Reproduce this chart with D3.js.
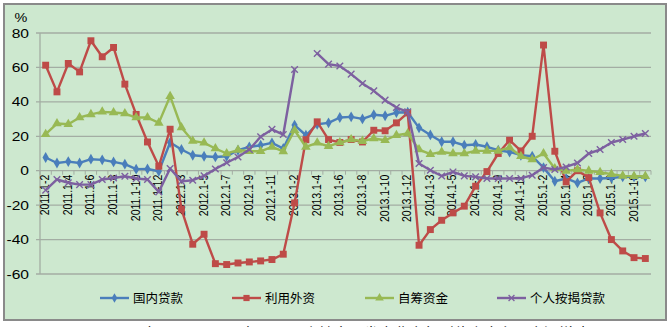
<!DOCTYPE html>
<html>
<head>
<meta charset="utf-8">
<script src="https://cdn.jsdelivr.net/npm/d3@7"></script>
<style>
  html, body { margin: 0; padding: 0; background: #ffffff; }
  svg { display: block; font-family: "Liberation Sans", Arial, sans-serif; }
</style>
</head>
<body>
<svg id="chart" width="671" height="327"></svg>
<script>
// Monthly cumulative periods (Jan–Feb combined), 2011 to 2015
const categories = [
  "2011.1-2","2011.1-3","2011.1-4","2011.1-5","2011.1-6","2011.1-7","2011.1-8","2011.1-9","2011.1-10","2011.1-11","2011.1-12",
  "2012.1-2","2012.1-3","2012.1-4","2012.1-5","2012.1-6","2012.1-7","2012.1-8","2012.1-9","2012.1-10","2012.1-11","2012.1-12",
  "2013.1-2","2013.1-3","2013.1-4","2013.1-5","2013.1-6","2013.1-7","2013.1-8","2013.1-9","2013.1-10","2013.1-11","2013.1-12",
  "2014.1-2","2014.1-3","2014.1-4","2014.1-5","2014.1-6","2014.1-7","2014.1-8","2014.1-9","2014.1-10","2014.1-11","2014.1-12",
  "2015.1-2","2015.1-3","2015.1-4","2015.1-5","2015.1-6","2015.1-7","2015.1-8","2015.1-9","2015.1-10","2015.1-11"
];

// Year-on-year growth, %
const domesticLoans = [
  7.7, 4.5, 5.3, 4.5, 6.7, 6.3, 5.1, 3.8, 0.9, 1.0, -0.3,
  16.4, 12.3, 9.0, 8.4, 8.0, 8.4, 11.9, 13.8, 14.8, 16.2, 12.9,
  26.5, 20.6, 27.0, 27.8, 30.9, 31.3, 30.1, 32.5, 31.9, 33.8, 34.0,
  24.9, 20.8, 16.8, 16.8, 14.8, 15.2, 13.9, 11.9, 10.9, 9.0, 8.4,
  1.8, -6.1, -4.5, -7.1, -4.5, -4.5, -4.2, -3.6, -3.6, -3.6
];
const foreignCapital = [
  61.3, 45.8, 62.3, 57.4, 75.5, 66.2, 71.6, 50.3, 32.7, 16.7, 2.6,
  24.1, -22.3, -42.7, -36.9, -54.0, -54.5, -53.6, -53.0, -52.4, -51.6, -48.5,
  -18.7, 18.0, 28.4, 18.1, 16.4, 18.1, 16.7, 23.5, 23.2, 27.8, 33.6,
  -43.3, -34.2, -28.8, -24.5, -20.6, -9.0, -0.5, 10.0, 17.7, 11.5, 20.0,
  73.0, 11.3, -6.5, 0.0, -4.0, -24.5, -40.0, -46.6, -50.5, -51.0
];
const selfRaised = [
  21.2, 27.4, 27.0, 30.9, 32.7, 34.2, 33.8, 33.2, 30.9, 30.9, 27.8,
  43.3, 25.1, 17.3, 16.2, 12.9, 10.0, 12.0, 11.3, 11.3, 13.8, 11.2,
  23.5, 13.8, 16.2, 14.2, 16.4, 18.1, 17.2, 18.7, 17.7, 20.6, 21.6,
  12.3, 9.6, 10.9, 10.0, 10.0, 11.5, 11.5, 11.5, 13.5, 8.4, 6.5,
  10.0, 1.3, -0.1, 0.7, -0.1, -0.9, -2.0, -3.0, -3.2, -3.2
];
const mortgageLoans = [
  -11.3, -5.1, -7.0, -8.1, -8.1, -5.1, -4.2, -3.2, -4.5, -5.1, -12.3,
  1.3, -6.2, -5.5, -3.0, 1.0, 4.6, 8.0, 12.3, 19.7, 24.0, 21.0,
  58.8, null, 68.1, 61.9, 60.8, 56.1, 50.7, 46.4, 41.0, 36.7, 34.2,
  4.2, 0.3, -3.1, -0.7, -3.0, -3.6, -4.5, -4.5, -4.5, -4.5, -2.6,
  1.8, 0.7, 2.2, 4.5, 10.0, 12.3, 16.4, 18.1, 20.0, 21.6
];

const seriesNames = ["国内贷款", "利用外资", "自筹资金", "个人按揭贷款"];
const yTicks = [80, 60, 40, 20, 0, -20, -40, -60];

const series = [
  { name: seriesNames[0], values: domesticLoans, color: "#4a7ebb", symbol: d3.symbolDiamond, size: 34, stroke: false },
  { name: seriesNames[1], values: foreignCapital, color: "#be4b48", symbol: d3.symbolSquare, size: 48, stroke: false },
  { name: seriesNames[2], values: selfRaised,     color: "#98b954", symbol: d3.symbolTriangle, size: 40, stroke: false },
  { name: seriesNames[3], values: mortgageLoans,  color: "#7d60a0", symbol: d3.symbolX, size: 30, stroke: true }
];

const svg = d3.select("#chart");

// chart frame
svg.append("rect")
  .attr("x", 4).attr("y", 4).attr("width", 662).attr("height", 316)
  .attr("fill", "#cde8cf").attr("stroke", "#8a8a8a").attr("stroke-width", 2);

const plot = { left: 40, right: 651, top: 33, bottom: 274 };

const x = d3.scalePoint().domain(categories).range([plot.left, plot.right]).padding(0.5);
const y = d3.scaleLinear().domain([-60, 80]).range([plot.bottom, plot.top]);

// horizontal gridlines
svg.append("g").selectAll("line").data(yTicks).join("line")
  .attr("x1", plot.left - 4).attr("x2", plot.right)
  .attr("y1", d => y(d)).attr("y2", d => y(d))
  .attr("stroke", "#a3ada3").attr("stroke-width", 1.3);

// value axis line
svg.append("line")
  .attr("x1", plot.left).attr("x2", plot.left)
  .attr("y1", y(80)).attr("y2", y(-60))
  .attr("stroke", "#a3ada3").attr("stroke-width", 1.3);

// value axis labels
svg.append("g").selectAll("text").data(yTicks).join("text")
  .attr("transform", d => `translate(29,${y(d) + 4.5}) scale(1.2,1)`)
  .attr("text-anchor", "end")
  .attr("font-size", 13)
  .attr("fill", "#000")
  .text(d => d);

svg.append("text")
  .attr("transform", "translate(21,22) scale(1.2,1)")
  .attr("text-anchor", "middle")
  .attr("font-size", 12)
  .attr("fill", "#000")
  .text("%");

// category axis on the zero line
const step = x.step();
svg.append("g").selectAll("line").data(d3.range(categories.length + 1)).join("line")
  .attr("x1", i => plot.left + i * step).attr("x2", i => plot.left + i * step)
  .attr("y1", y(0)).attr("y2", y(0) + 4)
  .attr("stroke", "#a3ada3").attr("stroke-width", 1);

svg.append("g").selectAll("text")
  .data(categories.filter((c, i) => i % 2 === 0))
  .join("text")
  .attr("transform", d => `translate(${x(d) + 3.5},${y(0) + 4}) scale(1.25,1) rotate(-90)`)
  .attr("text-anchor", "end")
  .attr("font-size", 10.5)
  .attr("fill", "#000")
  .text(d => d);

// series lines and markers
const line = d3.line()
  .defined(d => d.v !== null)
  .x(d => x(d.c))
  .y(d => y(d.v));

series.forEach(s => {
  const pts = categories.map((c, i) => ({ c, v: s.values[i] }));
  const g = svg.append("g");
  g.append("path")
    .datum(pts)
    .attr("d", line)
    .attr("fill", "none")
    .attr("stroke", s.color)
    .attr("stroke-width", 2.4)
    .attr("stroke-linejoin", "round");
  g.selectAll("path.m").data(pts.filter(p => p.v !== null)).join("path")
    .attr("class", "m")
    .attr("transform", p => `translate(${x(p.c)},${y(p.v)})`)
    .attr("d", d3.symbol(s.symbol, s.size))
    .attr("fill", s.stroke ? "none" : s.color)
    .attr("stroke", s.stroke ? s.color : "none")
    .attr("stroke-width", 1.4);
});

// legend
const legendX = [100, 232, 365, 497];
const legendY = 298;
const lg = svg.append("g").selectAll("g").data(series).join("g")
  .attr("transform", (d, i) => `translate(${legendX[i]},${legendY})`);
lg.append("line")
  .attr("x1", 0).attr("x2", 29).attr("y1", 0).attr("y2", 0)
  .attr("stroke", d => d.color).attr("stroke-width", 2.4);
lg.append("path")
  .attr("transform", "translate(14.5,0)")
  .attr("d", d => d3.symbol(d.symbol, d.size * 0.8)())
  .attr("fill", d => d.stroke ? "none" : d.color)
  .attr("stroke", d => d.stroke ? d.color : "none")
  .attr("stroke-width", 1.3);
lg.append("text")
  .attr("x", 33).attr("y", 4.5)
  .attr("font-size", 12.5)
  .attr("font-family", "'Noto Sans CJK SC', sans-serif")
  .attr("fill", "#000")
  .text(d => d.name);

// figure caption below the frame
svg.append("text")
  .attr("x", 85).attr("y", 339)
  .attr("font-size", 15)
  .attr("font-family", "'Noto Sans CJK SC', sans-serif")
  .attr("fill", "#000")
  .text("图3  2011年1-2月—2015年1-11月房地产开发企业本年到位资金主要来源增速");
</script>
</body>
</html>
